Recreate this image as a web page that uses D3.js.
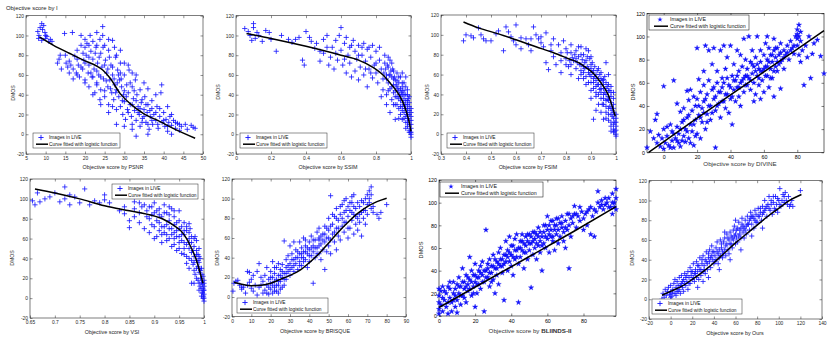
<!DOCTYPE html>
<html><head><meta charset="utf-8">
<script src="https://cdn.jsdelivr.net/npm/d3@7"></script>
<style>body{margin:0;background:#fff}svg{display:block}text{font-family:"Liberation Sans",Arial,sans-serif}</style>
</head><body><svg id="c" width="830" height="346"></svg>
<script>
// ---------------- DATA ----------------
const dmosTicks = [-20,0,20,40,60,80,100,120];
const dmosTicksPos = [0,20,40,60,80,100,120];
const psnrTicks = [5,10,15,20,25,30,35,40,45,50];
const ssimTicks = [0,0.2,0.4,0.6,0.8,1];
const fsimTicks = [0.3,0.4,0.5,0.6,0.7,0.8,0.9,1];
const divineTicks = [0,20,40,60,80];
const vsiTicks = [0.65,0.7,0.75,0.8,0.85,0.9,0.95,1];
const brisqueTicks = [0,10,20,30,40,50,60,70,80,90];
const bliindsTicks = [0,20,40,60,80];
const oursTicks = [-20,0,20,40,60,80,100,120,140];

const psnrPts = [[8,104],[8.3,100],[8.6,108],[9,112],[9.2,106],[9.5,110],[9.8,103],[10,97],[10.3,99],[10.8,94],[11.2,96],[9,95],[8.2,97],[10,100],[11.6,94],
[13,72],[13.4,76],[13.7,80],[14.8,102],[15.2,72],[15.6,68],[16,74],[16.4,70],[16.8,103],[17,66],[17.4,79],[17.8,62],[18,85],[18.3,70],[18.6,58],[19,100],[19,90],[19.4,66],[19.7,75],[20,55],[20,88],[20.3,80],[20.5,92],[20.8,62],[21,48],[21,70],[21.3,100],[21.5,84],[21.8,58],[22,94],[22,76],[22.3,66],[22.5,42],[22.8,88],[23,52],[23,103],[23.2,72],[23.5,60],[23.8,96],[24,82],[24,45],[24.3,68],[24.5,109],[24.7,56],[25,38],[25,90],[25.2,75],[25.5,62],[25.8,48],[26,85],[26,30],[26.3,55],[26.6,70],[26.8,42],[27,95],[27,60],[27.3,35],[27.6,50],[27.8,78],[28,25],[28,45],[28.3,65],[28.6,38],[28.8,55],[29,28],[29,72],[29.3,48],[29.6,20],[29.8,40],[30,60],[30,33],[30.3,15],[30.6,50],[30.8,25],[31,42],[31.2,65],[31.5,30],[31.8,18],[32,48],[32,10],[32.3,36],[32.6,24],[32.8,55],[33,14],[33.2,40],[33.5,28],[33.8,20],[34,45],[34,8],[34.3,32],[34.6,16],[35,25],[35.2,38],[35.5,12],[35.8,22],[36,30],[36.3,5],[36.6,18],[37,26],[37.2,10],[37.5,20],[38,14],[38.3,28],[38.6,6],[39,18],[39.3,42],[39.6,12],[40,22],[40.3,8],[40.6,15],[41,3],[41.3,12],[41.6,18],[42,9],[42,0],[42.5,14],[43,6],[43.5,11],[44,4],[44.5,8],[45.5,10],[46,5],[47,9],[47.5,7],[48,6],[33,-2],[36,0],[30,8],[28,10],[26,22],[24,30],[22,40],[20,52],[18,60],[29,85],[27.5,88],[24.5,100],[20,96],[21.5,62],[23.8,35],[31,70],[33,60],[35,52],[38,40],[39.5,50],[41,28],[36,46],[34.5,35],[32,5],[37,34],
[19,68],[20,72],[21,78],[21,90],[22,58],[22.6,82],[23,64],[23.6,78],[24,58],[24.6,88],[25,70],[25.4,54],[25.8,66],[26.2,78],[26.5,46],[27,68],[27.4,56],[27.8,42],[28.2,52],[28.5,60],[29.2,56],[29.5,34],[30,44],[30.5,38],[31,22],[31.5,52],[32,30],[32.5,44],[33,34],[33.5,22],[34,26],[34.5,12],[35,18],[35.5,30],[36,10],[36.5,24],[37,14],[38,22],[38.5,10],[39,26],[40,14],[41,8],[42,20],[43,12],[44,10],[17,56],[16,62],[15,80],[14,66],[18,76],[19.5,82],[23,90],[26,96],[28,80],[30,72],[32,62],[29,62],[27,28],[25,44],[23,50]];
const psnrFit = [[8.4,98.5],[12,90],[16,82],[19.6,75],[23,69],[24.5,65],[26.4,56.6],[28.9,41.4],[31.4,31.3],[34.8,21.2],[39.1,12.7],[42.4,6],[48,-4]];

const ssimPts = [[0.05,107],[0.07,104],[0.08,100],[0.1,112],[0.1,108],[0.11,97],[0.12,103],[0.09,95],[0.13,100],[0.15,94],[0.17,105],[0.19,103],[0.2,96],[0.23,84],[0.26,100],[0.3,96],[0.32,93],[0.34,96],[0.36,98],[0.38,75],[0.39,70],[0.4,104],[0.42,98],[0.43,94],[0.45,87],[0.46,92],[0.48,74],[0.5,96],[0.5,82],[0.52,100],[0.53,70],[0.54,78],[0.55,88],[0.56,66],[0.57,95],[0.58,75],[0.59,100],[0.6,108],[0.6,85],[0.61,70],[0.62,92],[0.63,98],[0.63,62],[0.64,80],[0.65,88],[0.65,72],[0.66,58],[0.67,95],[0.68,84],[0.68,64],[0.69,76],[0.7,90],[0.7,55],[0.71,68],[0.72,80],[0.73,92],[0.73,60],[0.74,74],[0.75,86],[0.75,48],[0.76,66],[0.77,78],[0.78,90],[0.78,57],[0.79,70],[0.8,84],[0.8,62],[0.81,52],[0.82,75],[0.82,88],[0.83,66],[0.84,56],[0.84,45],[0.85,72],[0.85,80],[0.86,60],[0.86,40],[0.87,52],[0.87,68],[0.88,46],[0.88,75],[0.89,58],[0.89,35],[0.9,50],[0.9,64],[0.9,42],[0.91,30],[0.91,55],[0.92,48],[0.92,38],[0.92,62],[0.93,26],[0.93,44],[0.93,52],[0.94,34],[0.94,58],[0.94,20],[0.95,40],[0.95,48],[0.95,15],[0.95,28],[0.96,36],[0.96,22],[0.96,52],[0.96,44],[0.97,30],[0.97,12],[0.97,40],[0.97,18],[0.98,26],[0.98,8],[0.98,34],[0.98,45],[0.98,16],[0.99,20],[0.99,4],[0.99,28],[0.99,10],[0.99,38],[1.0,0],[1.0,6],[1.0,14],[1.0,-3],[1.0,22],[0.995,2],[0.93,16],[0.91,15],[0.88,22],[0.86,30],[0.83,38],[0.87,78],[0.89,72],[0.76,88],[0.72,88],[0.66,90],[0.97,58],[0.95,62],
[0.86,56],[0.87,44],[0.88,60],[0.89,48],[0.9,56],[0.9,30],[0.91,44],[0.91,38],[0.92,54],[0.92,30],[0.93,36],[0.93,58],[0.94,46],[0.94,28],[0.94,38],[0.95,24],[0.95,52],[0.95,44],[0.96,30],[0.96,16],[0.96,40],[0.97,26],[0.97,34],[0.97,48],[0.97,6],[0.98,22],[0.98,12],[0.98,30],[0.98,40],[0.99,14],[0.99,24],[0.99,32],[0.99,2],[1.0,10],[1.0,18],[1.0,2],[1.0,26],[0.985,36],[0.975,20],[0.965,26],[0.955,32],[0.945,42],[0.935,40],[0.925,46],[0.915,50],[0.905,58],[0.895,66],[0.885,64],[0.875,60],[0.865,70],[0.855,66],[0.845,62],[0.8,72],[0.77,62],[0.74,66],[0.7,80],[0.62,76],[0.57,82],[0.52,88],[0.48,84]];
const ssimFit = [[0.06,102],[0.2,97],[0.4,89],[0.6,80],[0.7,75],[0.78,68],[0.84,60],[0.88,52],[0.92,43],[0.95,34],[0.975,22],[0.99,12],[1.0,3]];

const fsimPts = [[0.39,94],[0.4,100],[0.42,99],[0.43,97],[0.45,107],[0.46,100],[0.47,96],[0.48,94],[0.5,94],[0.52,101],[0.53,104],[0.55,84],[0.56,108],[0.57,103],[0.58,98],[0.59,94],[0.6,110],[0.6,90],[0.62,86],[0.62,97],[0.64,96],[0.65,90],[0.66,84],[0.67,108],[0.68,100],[0.69,96],[0.7,92],[0.71,88],[0.72,102],[0.72,72],[0.73,65],[0.74,84],[0.75,96],[0.75,78],[0.76,70],[0.77,90],[0.78,82],[0.78,62],[0.79,94],[0.8,76],[0.8,86],[0.81,68],[0.82,90],[0.82,60],[0.83,74],[0.84,84],[0.84,66],[0.85,78],[0.85,56],[0.86,88],[0.86,70],[0.87,62],[0.87,80],[0.88,50],[0.88,74],[0.89,66],[0.89,84],[0.9,58],[0.9,44],[0.9,70],[0.91,52],[0.91,64],[0.91,15],[0.92,38],[0.92,60],[0.92,48],[0.93,56],[0.93,30],[0.93,66],[0.94,42],[0.94,50],[0.94,22],[0.94,62],[0.95,36],[0.95,46],[0.95,15],[0.95,55],[0.96,28],[0.96,40],[0.96,72],[0.96,52],[0.97,20],[0.97,34],[0.97,44],[0.97,60],[0.98,12],[0.98,26],[0.98,38],[0.98,48],[0.99,5],[0.99,16],[0.99,30],[0.99,42],[0.99,22],[1.0,0],[1.0,8],[1.0,-2],[1.0,12],[0.995,3],[0.985,18],[0.975,28],[0.965,35],[0.955,42],[0.945,30],[0.935,45],[0.925,50],[0.915,58],[0.905,62],[0.895,60],[0.885,68],[0.875,72],[0.865,75],[0.855,70],[0.845,72],[0.835,80],[0.825,77],[0.815,74],[0.805,82],[0.86,64],[0.87,56],[0.89,52],[0.9,36],[0.92,24],[0.9,78],[0.88,86],[0.85,88],[0.82,82],[0.96,16],[0.98,3],
[0.86,60],[0.87,68],[0.88,58],[0.89,62],[0.9,52],[0.9,66],[0.91,46],[0.91,56],[0.92,42],[0.92,54],[0.93,40],[0.93,50],[0.94,36],[0.94,46],[0.94,56],[0.95,30],[0.95,40],[0.95,50],[0.96,22],[0.96,34],[0.96,46],[0.97,14],[0.97,26],[0.97,38],[0.97,50],[0.98,8],[0.98,20],[0.98,32],[0.98,42],[0.99,10],[0.99,26],[0.99,36],[0.99,2],[1.0,4],[1.0,16],[1.0,20],[0.995,12],[0.985,24],[0.975,44],[0.965,48],[0.955,58],[0.945,54],[0.935,60],[0.925,64],[0.915,68],[0.905,72],[0.895,76],[0.885,78],[0.875,66],[0.86,80],[0.84,76],[0.82,70],[0.8,70],[0.78,74],[0.74,90],[0.7,98],[0.66,96]];
const fsimFit = [[0.39,113],[0.45,107],[0.53,101],[0.6,95],[0.68,88],[0.75,82],[0.81,76],[0.85,72],[0.88,67],[0.91,61],[0.93,55],[0.95,48],[0.97,39],[0.985,28],[0.997,18]];

const divinePts = [[-10,4],[-8,18],[-6,12],[-5,28],[-4,33],[-4,8],[-3,15],[-2,5],[-1,12],[0,57],[0,3],[0,20],[1,8],[2,14],[3,6],[4,24],[5,10],[5,18],[6,62],[6,4],[7,12],[8,22],[8,42],[9,16],[9,8],[10,35],[10,5],[11,26],[12,14],[12,38],[13,20],[13,9],[14,30],[14,53],[15,45],[15,12],[16,24],[16,54],[17,18],[17,36],[18,48],[18,6],[19,28],[19,40],[20,90],[20,16],[20,46],[21,32],[21,63],[22,12],[22,52],[23,38],[23,26],[24,70],[24,58],[24,44],[25,92],[25,20],[26,33],[26,50],[27,88],[27,62],[28,40],[28,28],[29,76],[29,54],[30,46],[30,90],[31,4],[31,36],[32,60],[32,70],[33,42],[33,52],[34,88],[34,30],[35,56],[35,64],[36,92],[36,44],[37,38],[37,72],[38,50],[38,82],[39,58],[39,34],[40,46],[40,92],[41,66],[41,24],[42,54],[42,76],[43,44],[43,62],[44,88],[44,56],[45,70],[45,48],[46,40],[46,84],[47,62],[47,74],[48,52],[48,98],[49,66],[49,80],[50,58],[50,72],[51,100],[51,64],[52,54],[52,78],[53,68],[53,88],[54,60],[54,74],[55,82],[55,50],[56,66],[56,100],[57,72],[57,58],[58,78],[58,88],[59,62],[59,70],[60,84],[60,52],[61,74],[61,94],[62,66],[62,80],[63,56],[63,90],[64,72],[64,84],[65,78],[65,64],[66,88],[66,98],[67,74],[67,82],[68,90],[68,70],[69,84],[70,78],[70,94],[72,88],[72,82],[74,92],[74,86],[75,80],[76,96],[77,90],[78,85],[79,100],[80,106],[80,92],[81,110],[81,84],[82,96],[82,78],[83,88],[84,58],[85,92],[86,82],[87,100],[88,64],[89,85],[90,94],[92,97],[94,83],[96,68],[62,100],[58,46],[66,48],[70,55],[54,44],
[2,22],[4,4],[6,16],[8,10],[10,20],[11,10],[12,28],[14,18],[15,32],[16,8],[18,24],[19,14],[21,40],[22,30],[24,34],[25,46],[26,26],[27,40],[29,34],[30,56],[31,48],[32,40],[34,52],[35,44],[36,60],[37,50],[38,64],[40,56],[41,48],[42,62],[44,66],[45,56],[46,60],[48,64],[49,58],[50,66],[52,62],[53,76],[55,70],[56,76],[57,64],[58,70],[60,72],[61,66],[62,74],[63,78],[64,64],[65,84],[66,70],[67,90],[68,78],[69,76],[70,86],[71,80],[72,72],[73,84],[76,88],[78,92],[80,98],[82,104],[81,100],[80,102]];
const divineFit = [[-9,0],[20,29.5],[40,49.5],[60,69.5],[80,89],[96,105]];

const vsiPts = [[0.655,98],[0.66,94],[0.665,106],[0.67,97],[0.68,100],[0.69,102],[0.7,106],[0.71,97],[0.72,112],[0.72,100],[0.73,94],[0.73,104],[0.74,102],[0.75,96],[0.76,110],[0.77,94],[0.78,98],[0.79,96],[0.8,99],[0.8,104],[0.81,96],[0.82,106],[0.83,88],[0.84,92],[0.84,85],[0.85,78],[0.85,71],[0.86,90],[0.86,97],[0.87,76],[0.87,86],[0.88,94],[0.88,70],[0.885,82],[0.89,66],[0.89,92],[0.895,74],[0.9,96],[0.9,86],[0.9,60],[0.905,78],[0.91,90],[0.91,68],[0.915,82],[0.915,56],[0.92,94],[0.92,72],[0.925,64],[0.925,86],[0.93,78],[0.93,60],[0.935,90],[0.935,70],[0.94,82],[0.94,54],[0.94,66],[0.945,76],[0.945,62],[0.95,88],[0.95,70],[0.95,50],[0.955,72],[0.955,58],[0.96,64],[0.96,44],[0.96,76],[0.965,54],[0.965,68],[0.97,60],[0.97,40],[0.97,50],[0.972,70],[0.975,46],[0.975,56],[0.978,34],[0.98,52],[0.98,42],[0.98,28],[0.982,62],[0.985,38],[0.985,48],[0.985,20],[0.988,32],[0.988,44],[0.99,26],[0.99,15],[0.99,36],[0.992,40],[0.993,20],[0.994,10],[0.995,30],[0.996,5],[0.997,14],[0.998,0],[0.998,22],[0.999,8],[1.0,-3],[1.0,4],[1.0,12],[1.0,18],[0.98,15],[0.975,15],[0.965,35],[0.955,45],[0.945,48],[0.935,52],[0.925,58],[0.915,72],[0.905,62],[0.895,84],[0.885,88],[0.875,92],[0.97,75],[0.96,56],[0.95,62],[0.94,74],[0.93,84],[0.92,86],[0.91,76],[0.99,50],[0.985,58],
[0.96,50],[0.965,42],[0.97,30],[0.97,56],[0.975,38],[0.975,62],[0.978,48],[0.98,36],[0.98,60],[0.982,24],[0.985,30],[0.985,44],[0.988,18],[0.988,38],[0.99,8],[0.99,30],[0.99,42],[0.992,12],[0.993,28],[0.995,16],[0.995,2],[0.996,24],[0.997,6],[0.998,10],[0.999,2],[1.0,8],[1.0,0],[1.0,15],[0.96,68],[0.955,64],[0.95,56],[0.945,68],[0.94,60],[0.935,64],[0.93,70],[0.925,74],[0.92,66],[0.915,64],[0.91,84],[0.905,88],[0.9,72],[0.895,92],[0.89,80],[0.97,66],[0.965,72],[0.95,78],[0.94,88],[0.93,92],[0.86,82],[0.87,96]];
const vsiFit = [[0.66,110],[0.7,106],[0.75,100],[0.8,93],[0.85,88],[0.89,84],[0.92,79],[0.94,73],[0.955,67],[0.965,60],[0.975,50],[0.985,38],[0.992,26],[0.998,15]];

const brisquePts = [[0.5,6],[1,14],[2,16],[3,17],[4,12],[5,10],[5,8],[6,10],[7,4],[8,12],[8,26],[9,25],[9,15],[10,18],[10,9],[11,22],[11,6],[12,12],[13,26],[13,2],[14,34],[14,10],[15,12],[15,20],[16,4],[16,16],[17,22],[17,7],[18,30],[18,12],[19,18],[19,3],[20,8],[20,14],[20,26],[21,36],[21,20],[21,4],[22,10],[22,24],[22,16],[23,6],[23,30],[23,18],[24,12],[24,22],[24,34],[25,8],[25,28],[25,16],[26,20],[26,33],[27,57],[27,24],[27,12],[28,30],[28,38],[28,18],[29,26],[29,42],[30,34],[30,22],[30,52],[31,30],[31,44],[32,38],[32,26],[33,48],[33,34],[34,40],[34,28],[35,44],[35,56],[35,36],[36,32],[36,50],[37,46],[37,40],[37,60],[38,38],[38,52],[39,44],[39,30],[40,56],[40,48],[40,36],[41,42],[41,62],[42,52],[42,46],[42,14],[43,58],[43,40],[44,66],[44,50],[45,44],[45,58],[45,70],[46,54],[46,38],[47,64],[47,48],[48,72],[48,56],[48,28],[49,60],[49,46],[50,68],[50,52],[50,80],[51,103],[51,58],[51,44],[52,74],[52,64],[53,82],[53,56],[54,70],[54,90],[54,48],[55,62],[55,78],[56,84],[56,58],[57,72],[57,94],[58,66],[58,86],[59,76],[59,100],[60,60],[60,82],[60,92],[61,70],[61,88],[62,78],[62,96],[63,64],[63,84],[64,74],[64,90],[65,80],[65,68],[66,92],[66,76],[67,86],[67,62],[68,96],[68,80],[69,74],[69,88],[70,104],[70,84],[71,96],[71,108],[72,112],[72,90],[73,92],[75,84],[76,80],[77,86],[80,94],[45,60],[38,58],[32,56],[62,102],[58,98],[63,104],
[18,4],[19,10],[20,20],[21,12],[22,6],[22,30],[23,12],[24,4],[24,16],[25,22],[26,10],[26,26],[27,18],[28,24],[29,32],[30,28],[31,38],[32,32],[33,40],[34,46],[35,32],[36,40],[36,44],[37,36],[38,46],[39,50],[40,42],[41,50],[42,58],[43,50],[44,44],[45,52],[46,62],[47,58],[48,64],[49,70],[50,60],[51,72],[52,84],[53,66],[54,80],[55,70],[56,92],[57,80],[58,76],[59,88],[60,70],[61,96],[62,86],[63,92],[64,82],[65,96],[66,84],[67,98],[68,88],[69,100],[70,94],[71,100],[72,104],[73,86]];
const brisqueFit = [[1,15],[5,13],[10,11.5],[15,12],[20,14],[25,18],[30,22],[35,27],[40,35],[45,44],[50,55],[55,66],[60,76],[65,85],[70,92],[75,97],[80,100.5]];

const bliindsPts = [[0,2],[0,6],[0,12],[0,18],[0,24],[1,22],[1,10],[2,26],[2,4],[3,14],[4,20],[4,8],[5,26],[5,2],[6,16],[6,24],[7,4],[7,12],[8,30],[8,20],[9,8],[9,24],[10,14],[10,28],[10,3],[11,20],[11,34],[12,10],[12,26],[13,42],[13,18],[14,24],[14,30],[15,12],[15,36],[16,22],[16,28],[17,32],[17,52],[18,18],[18,40],[19,26],[19,36],[20,8],[20,30],[20,46],[21,20],[21,34],[22,40],[22,28],[23,24],[23,44],[24,36],[24,48],[25,30],[25,4],[26,40],[26,76],[27,34],[27,46],[28,26],[28,50],[29,38],[29,44],[30,54],[30,32],[31,42],[31,20],[32,48],[32,36],[33,56],[33,28],[34,44],[34,60],[35,38],[35,50],[36,46],[36,14],[37,54],[37,66],[38,40],[38,58],[39,48],[39,70],[40,44],[40,54],[41,62],[41,36],[42,50],[42,68],[43,58],[43,72],[44,46],[44,12],[45,60],[45,52],[46,66],[46,72],[47,56],[47,42],[48,62],[48,70],[49,50],[49,66],[50,72],[50,58],[51,64],[51,25],[52,54],[52,74],[53,68],[53,60],[54,72],[54,50],[55,62],[55,78],[56,66],[56,56],[57,70],[57,40],[58,74],[58,64],[59,60],[59,80],[60,68],[60,88],[61,72],[61,56],[62,76],[62,84],[63,66],[63,70],[64,80],[64,58],[65,72],[65,86],[66,76],[66,64],[67,82],[67,70],[68,78],[68,88],[69,74],[69,66],[70,84],[70,60],[71,90],[71,76],[72,42],[72,80],[73,86],[73,70],[74,82],[75,90],[75,97],[76,78],[77,88],[78,84],[79,92],[80,86],[80,76],[81,90],[82,80],[83,94],[84,72],[85,88],[86,70],[87,92],[88,100],[88,110],[89,96],[90,102],[91,94],[92,98],[93,100],[94,104],[95,96],[96,108],[97,100],[98,112],[98,104],[98,94],[97,96],[96,90],
[2,16],[3,22],[5,12],[6,30],[8,14],[9,18],[11,26],[12,18],[13,30],[14,16],[15,26],[16,34],[17,24],[18,30],[19,20],[20,36],[21,28],[22,34],[23,38],[24,30],[25,40],[26,34],[27,42],[28,38],[29,30],[30,44],[31,50],[32,42],[33,46],[34,50],[35,44],[36,54],[37,48],[38,52],[39,56],[40,62],[41,52],[42,58],[43,52],[44,60],[45,66],[46,58],[47,64],[48,56],[49,72],[50,64],[51,70],[52,66],[53,74],[54,64],[55,70],[56,74],[57,62],[58,80],[59,70],[60,76],[61,80],[62,70],[63,84],[64,76],[65,80],[66,86],[68,82],[70,78],[72,90],[74,88],[76,90],[78,96],[82,92],[84,96],[86,94],[90,98],[92,104],[94,96],[96,100]];
const bliindsFit = [[0,7.5],[25,30],[50,52.5],[75,75],[98,96.5]];

const oursPts = [[-8,0],[-7,6],[-6,2],[-5,10],[-4,4],[-3,8],[-2,12],[-1,5],[0,7],[0,14],[1,3],[2,10],[3,16],[4,6],[4,20],[5,12],[6,8],[6,18],[7,14],[8,22],[8,10],[9,6],[10,16],[10,24],[11,12],[12,20],[12,8],[13,26],[14,14],[14,22],[15,18],[16,28],[16,10],[17,22],[18,16],[18,32],[19,24],[20,20],[20,28],[21,36],[22,18],[22,26],[23,30],[24,22],[24,38],[25,28],[26,34],[26,20],[27,42],[28,30],[28,24],[29,36],[30,28],[30,44],[31,34],[32,40],[32,26],[33,48],[34,36],[34,30],[35,42],[36,38],[36,50],[37,32],[38,44],[38,54],[39,40],[40,36],[40,48],[41,44],[42,52],[42,40],[43,58],[44,46],[44,36],[45,50],[46,44],[46,60],[47,52],[48,48],[48,42],[49,58],[50,50],[50,62],[51,44],[52,56],[52,66],[53,50],[54,60],[54,46],[55,68],[56,56],[56,64],[57,52],[58,70],[58,60],[59,74],[60,56],[60,66],[61,62],[62,72],[62,58],[63,78],[64,66],[64,70],[65,62],[66,76],[66,82],[67,68],[68,72],[68,62],[69,80],[70,74],[70,66],[71,84],[72,76],[73,70],[74,82],[74,88],[75,76],[76,84],[77,72],[78,80],[78,90],[79,86],[80,78],[81,92],[82,84],[83,88],[84,80],[85,94],[86,88],[87,100],[88,92],[89,84],[90,96],[91,104],[92,90],[93,100],[94,86],[95,98],[96,92],[97,104],[98,96],[99,88],[100,100],[101,112],[102,94],[104,106],[105,98],[106,108],[108,96],[110,94],[112,100],[113,94],[120,110],[65,50],[55,40],[75,64],[85,72],[45,30],[35,22],[60,80],[50,68],[30,18],[25,12],
[0,2],[2,6],[5,4],[7,8],[9,14],[11,18],[13,16],[15,24],[17,16],[19,28],[21,22],[23,26],[25,34],[27,30],[29,40],[31,30],[33,38],[35,46],[37,42],[39,48],[41,38],[43,48],[45,42],[47,56],[49,46],[51,54],[53,62],[55,56],[57,62],[59,64],[61,70],[63,64],[65,72],[67,74],[69,70],[71,76],[73,80],[75,84],[77,82],[79,78],[81,84],[83,92],[85,86],[87,90],[89,94],[91,92],[93,96],[95,104],[97,90],[99,102],[101,96],[103,100],[105,104],[107,100],[109,104],[111,96]];
const oursFit = [[-8,4],[0,8],[10,13],[20,20],[30,28],[40,37],[50,47],[60,57],[70,66],[80,75],[90,84],[100,92],[110,100],[121,106]];

// ---------------- LAYOUT ----------------
const panels = [
 {pts:psnrPts, fit:psnrFit, name:"PSNR", xd:[5,50], yd:[-20,120], xt:psnrTicks, yt:dmosTicks, L:26,R:203,T:15.7,B:154, star:false, leg:[33,133,87], xl:[113,169], yl:[13,93]},
 {pts:ssimPts, fit:ssimFit, name:"SSIM", xd:[0,1], yd:[-20,120], xt:ssimTicks, yt:dmosTicks, L:236,R:411,T:15.7,B:154, star:false, leg:[240,133,87], xl:[328,169], yl:[218,92]},
 {pts:fsimPts, fit:fsimFit, name:"FSIM", xd:[0.3,1], yd:[-20,120], xt:fsimTicks, yt:dmosTicks, L:441,R:616,T:15,B:154, star:false, leg:[447,133,87], xl:[528,169], yl:[427,92]},
 {pts:divinePts, fit:divineFit, name:"DIVINE", xd:[-10,96], yd:[0,120], xt:divineTicks, yt:dmosTicksPos, L:647,R:824,T:13.3,B:152.3, star:true, leg:[649,15,100], xl:[740,166], yl:[633,92]},
 {pts:vsiPts, fit:vsiFit, name:"VSI", xd:[0.65,1], yd:[-20,120], xt:vsiTicks, yt:dmosTicks, L:30,R:204,T:179,B:318, star:false, leg:[112,184,86], xl:[112,334], yl:[12,258]},
 {pts:brisquePts, fit:brisqueFit, name:"BRISQUE", xd:[0,90], yd:[-20,120], xt:brisqueTicks, yt:dmosTicks, L:232,R:406,T:179,B:316.7, star:false, leg:[237,298,91], xl:[315,333], yl:[217,258]},
 {pts:bliindsPts, fit:bliindsFit, name:"BLIINDS-II", xd:[0,98], yd:[0,120], xt:bliindsTicks, yt:dmosTicksPos, L:439,R:616,T:180,B:316, star:true, leg:[440,182,103], xl:[530,333], yl:[421,250]},
 {pts:oursPts, fit:oursFit, name:"Ours", xd:[-20,140], yd:[-20,120], xt:oursTicks, yt:dmosTicks, L:649,R:822,T:180.7,B:319, star:false, leg:[652,299,90], xl:[735,335], yl:[632,258]}
];

const svg = d3.select("#c");
const fmt = d => String(+d.toFixed(2));
const plusPath = "M-2.6,0H2.6M0,-2.6V2.6";
const starSym = d3.symbol(d3.symbolStar, 9)();

svg.append("text").attr("x",6).attr("y",10).attr("font-size",5.9).attr("fill","#222").text("Objective score by I");

panels.forEach(p => {
  const x = d3.scaleLinear().domain(p.xd).range([p.L,p.R]);
  const y = d3.scaleLinear().domain(p.yd).range([p.B,p.T]);
  const g = svg.append("g");
  const axCol = p.star ? "#000" : "#262626";
  const tickFs = p.star ? 5.3 : 4.9;
  g.append("rect").attr("x",p.L).attr("y",p.T).attr("width",p.R-p.L).attr("height",p.B-p.T)
    .attr("fill","#fff").attr("stroke",axCol).attr("stroke-width",0.6);

  const styleAxis = (sel, labels) => {
    sel.select(".domain").remove();
    sel.selectAll(".tick line").attr("stroke",axCol).attr("stroke-width",0.5);
    sel.selectAll(".tick text").attr("fill",axCol).attr("font-size",tickFs).attr("font-family",'"Liberation Sans",Arial,sans-serif');
    if(!labels) sel.selectAll(".tick text").remove();
  };
  g.append("g").attr("transform",`translate(0,${p.B})`)
    .call(d3.axisBottom(x).tickValues(p.xt).tickFormat(fmt).tickSize(-2.5).tickPadding(3)).call(s=>styleAxis(s,true));
  g.append("g").attr("transform",`translate(0,${p.T})`)
    .call(d3.axisTop(x).tickValues(p.xt).tickSize(-2.5)).call(s=>styleAxis(s,false));
  g.append("g").attr("transform",`translate(${p.L},0)`)
    .call(d3.axisLeft(y).tickValues(p.yt).tickFormat(fmt).tickSize(-2.5).tickPadding(2)).call(s=>styleAxis(s,true));
  g.append("g").attr("transform",`translate(${p.R},0)`)
    .call(d3.axisRight(y).tickValues(p.yt).tickSize(-2.5)).call(s=>styleAxis(s,false));

  const pg = g.append("g");
  if(p.star){
    pg.selectAll("path").data(p.pts).join("path")
      .attr("d",starSym).attr("transform",d=>`translate(${x(d[0])},${y(d[1])})`)
      .attr("fill","#1515ff").attr("stroke","#0000ee").attr("stroke-width",0.3);
  } else {
    pg.selectAll("path").data(p.pts).join("path")
      .attr("d",plusPath).attr("transform",d=>`translate(${x(d[0])},${y(d[1])})`)
      .attr("fill","none").attr("stroke","#1414ff").attr("stroke-width",0.95).attr("opacity",0.85);
  }
  g.append("path").datum(p.fit)
    .attr("d",d3.line().x(d=>x(d[0])).y(d=>y(d[1])).curve(d3.curveMonotoneX))
    .attr("fill","none").attr("stroke","#000").attr("stroke-width",1.5);

  const [lx,ly,lw] = p.leg;
  const lg = g.append("g");
  lg.append("rect").attr("x",lx).attr("y",ly).attr("width",lw).attr("height",15)
    .attr("fill","#fff").attr("stroke",p.star?"#000":"#262626").attr("stroke-width",0.5);
  const fs = p.star ? 5.3 : 4.8;
  const tx = p.star ? 21 : 16;
  if(p.star){
    lg.append("path").attr("d",starSym).attr("transform",`translate(${lx+11},${ly+4.5})`).attr("fill","#1515ff");
  } else {
    lg.append("path").attr("d",plusPath).attr("transform",`translate(${lx+8},${ly+4.5})`).attr("stroke","#1414ff").attr("stroke-width",0.9);
  }
  lg.append("line").attr("x1",lx+(p.star?5:3)).attr("x2",lx+(p.star?19:15)).attr("y1",ly+11.2).attr("y2",ly+11.2).attr("stroke","#000").attr("stroke-width",1.5);
  lg.append("text").attr("x",lx+tx).attr("y",ly+4.5).attr("dy","0.35em").attr("font-size",fs).attr("fill","#111").text("Images in LIVE");
  lg.append("text").attr("x",lx+tx).attr("y",ly+11.2).attr("dy","0.35em").attr("font-size",fs).attr("fill","#111").text("Curve fitted with logistic function");

  const xt = g.append("text").attr("x",p.xl[0]).attr("y",p.xl[1]).attr("text-anchor","middle")
    .attr("font-size",p.star?6.2:5.4).attr("fill",p.star?"#333":"#262626");
  xt.append("tspan").text("Objective score by ");
  xt.append("tspan").attr("font-weight",p.name==="BLIINDS-II"?"bold":"normal").text(p.name);
  g.append("text").attr("transform",`translate(${p.yl[0]},${p.yl[1]}) rotate(-90)`).attr("text-anchor","middle").attr("dy","0.35em")
    .attr("font-size",p.star?5.6:5.2).attr("fill","#262626").text("DMOS");
});
</script></body></html>
